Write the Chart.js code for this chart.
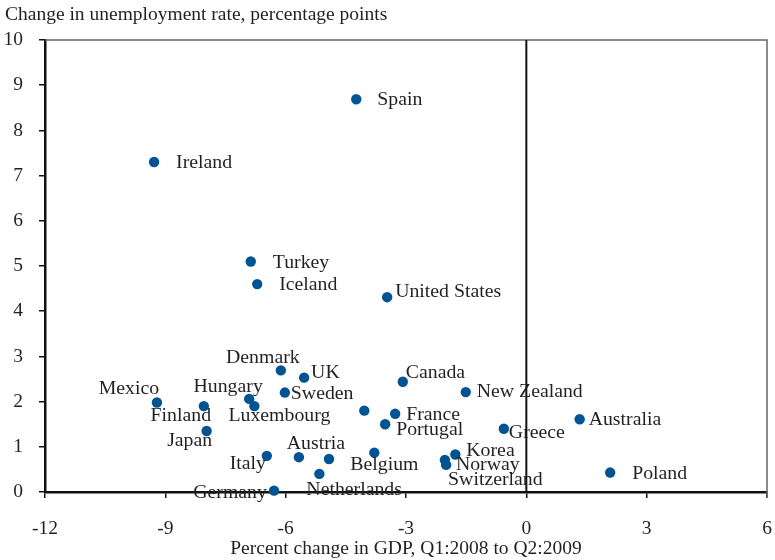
<!DOCTYPE html>
<html>
<head>
<meta charset="utf-8">
<script src="https://cdn.jsdelivr.net/npm/chart.js@4.4.1/dist/chart.umd.min.js"></script>
<style>
  body { margin: 0; background: #fff; }
  #wrap { width: 775px; height: 560px; }
</style>
</head>
<body>
<div id="wrap"><canvas id="scatter-chart"></canvas></div>
<script>
// Données : variation du PIB (T1 2008 - T2 2009) et du taux de chômage
const countries = [
    'Spain', 'Ireland', 'Turkey', 'Iceland', 'United States',
    'Denmark', 'UK', 'Sweden', 'Hungary', 'Luxembourg',
    'Mexico', 'Finland', 'Japan', 'Italy', 'Austria',
    '', 'Netherlands', 'Germany', '', 'Belgium',
    'Portugal', 'France', 'Canada', 'New Zealand', 'Greece',
    'Australia', 'Korea', 'Norway', 'Switzerland', 'Poland'
];
const gdpChange = [
    -4.24, -9.28, -6.87, -6.71, -3.47,
    -6.12, -5.54, -6.02, -6.91, -6.78,
    -9.21, -8.04, -7.97, -6.47, -5.67,
    -4.92, -5.16, -6.29, -4.04, -3.79,
    -3.52, -3.27, -3.08, -1.51, -0.56,
    1.33, -1.77, -2.03, -2.00, 2.09
];
const unemploymentChange = [
    8.69, 7.30, 5.10, 4.60, 4.31,
    2.69, 2.53, 2.20, 2.06, 1.90,
    1.98, 1.90, 1.35, 0.80, 0.77,
    0.73, 0.40, 0.03, 1.80, 0.87,
    1.50, 1.73, 2.44, 2.21, 1.40,
    1.61, 0.83, 0.71, 0.60, 0.43
];
const xTicks = [-12, -9, -6, -3, 0, 3, 6];
const yTicks = [0, 1, 2, 3, 4, 5, 6, 7, 8, 9, 10];

const yTitle = 'Change in unemployment rate, percentage points';
const xTitle = 'Percent change in GDP, Q1:2008 to Q2:2009';

// placement des étiquettes : [dx, dy, alignement]
const labelPlacement = {
    'Spain': [21, 1, 'left'],
    'Ireland': [22, 1, 'left'],
    'Turkey': [22, 1, 'left'],
    'Iceland': [22, 1, 'left'],
    'United States': [8, -5, 'left'],
    'Denmark': [-18, -13, 'center'],
    'UK': [7, -5, 'left'],
    'Sweden': [6, 1, 'left'],
    'Hungary': [-21, -12, 'center'],
    'Luxembourg': [25, 10, 'center'],
    'Mexico': [-28, -14, 'center'],
    'Finland': [-23, 10, 'center'],
    'Japan': [-17, 10, 'center'],
    'Italy': [-19, 8, 'center'],
    'Austria': [17, -13, 'center'],
    'Netherlands': [-13, 16, 'left'],
    'Germany': [-44, 2, 'center'],
    'Belgium': [-24, 12, 'left'],
    'Portugal': [11, 6, 'left'],
    'France': [11, 1, 'left'],
    'Canada': [3, -9, 'left'],
    'New Zealand': [11, 0, 'left'],
    'Greece': [5, 4, 'left'],
    'Australia': [9, 1, 'left'],
    'Korea': [11, -4, 'left'],
    'Norway': [11, 5, 'left'],
    'Switzerland': [2, 15, 'left'],
    'Poland': [22, 1, 'left']
};

const FONT = "'Liberation Serif', 'Times New Roman', serif";
const TEXT = '#231f20';

const pointLabels = {
    id: 'pointLabels',
    afterDatasetsDraw(chart) {
        const ctx = chart.ctx;
        const meta = chart.getDatasetMeta(0);
        ctx.save();
        ctx.font = '19.8px ' + FONT;
        ctx.fillStyle = TEXT;
        ctx.textBaseline = 'middle';
        meta.data.forEach(function(pt, i) {
            const name = countries[i];
            const p = labelPlacement[name];
            if (!name || !p) return;
            ctx.textAlign = p[2];
            ctx.fillText(name, pt.x + p[0], pt.y + p[1]);
        });
        ctx.restore();
    }
};

const frame = {
    id: 'frame',
    beforeDatasetsDraw(chart) {
        const ctx = chart.ctx;
        const a = chart.chartArea;
        const x0 = chart.scales.x.getPixelForValue(0);
        ctx.save();
        ctx.strokeStyle = '#666';
        ctx.lineWidth = 1.5;
        ctx.beginPath();
        ctx.moveTo(a.left, a.top);
        ctx.lineTo(a.right, a.top);
        ctx.lineTo(a.right, a.bottom + 6);
        ctx.stroke();
        ctx.strokeStyle = '#111';
        ctx.lineWidth = 2;
        ctx.beginPath();
        ctx.moveTo(x0, a.top);
        ctx.lineTo(x0, a.bottom);
        ctx.stroke();
        ctx.restore();
    }
};

document.addEventListener('DOMContentLoaded', function() {
    const ctx = document.getElementById('scatter-chart');
    const points = gdpChange.map(function(x, i) {
        return { x: x, y: unemploymentChange[i] };
    });

    new Chart(ctx, {
        type: 'scatter',
        data: {
            datasets: [{
                label: 'OECD',
                data: points,
                backgroundColor: '#005494',
                borderColor: '#005494',
                borderWidth: 0,
                pointRadius: 5.2,
                clip: false
            }]
        },
        options: {
            responsive: true,
            maintainAspectRatio: false,
            animation: false,
            layout: { padding: { left: 5, right: 8, top: 0, bottom: 0 } },
            plugins: {
                legend: { display: false },
                tooltip: { enabled: false },
                title: {
                    display: true,
                    text: yTitle,
                    align: 'start',
                    color: TEXT,
                    font: { family: FONT, size: 19.5, weight: 'normal' },
                    padding: { top: 3, bottom: 13.6 }
                }
            },
            scales: {
                x: {
                    type: 'linear',
                    min: -12,
                    max: 6,
                    afterBuildTicks: function(scale) {
                        scale.ticks = xTicks.map(function(v) { return { value: v }; });
                    },
                    afterFit: function(scale) {
                        scale.height = 68;
                        scale.paddingLeft = 0;
                        scale.paddingRight = 0;
                    },
                    border: { display: true, color: '#111', width: 2.5 },
                    grid: {
                        display: true,
                        drawOnChartArea: false,
                        drawTicks: true,
                        tickLength: 6,
                        tickColor: '#111',
                        lineWidth: 1.5
                    },
                    ticks: {
                        color: TEXT,
                        padding: 19,
                        font: { family: FONT, size: 19.5 }
                    },
                    title: {
                        display: true,
                        text: xTitle,
                        color: TEXT,
                        font: { family: FONT, size: 19.5 },
                        padding: { top: 0, bottom: -1 }
                    }
                },
                y: {
                    type: 'linear',
                    min: 0,
                    max: 10,
                    afterBuildTicks: function(scale) {
                        scale.ticks = yTicks.map(function(v) { return { value: v }; });
                    },
                    afterFit: function(scale) { scale.width = 40; },
                    border: { display: true, color: '#111', width: 2.5 },
                    grid: {
                        display: true,
                        drawOnChartArea: false,
                        drawTicks: true,
                        tickLength: 6,
                        tickColor: '#111',
                        lineWidth: 1.5
                    },
                    ticks: {
                        color: TEXT,
                        padding: 16,
                        font: { family: FONT, size: 19.5 }
                    }
                }
            }
        },
        plugins: [frame, pointLabels]
    });
});
</script>
</body>
</html>
